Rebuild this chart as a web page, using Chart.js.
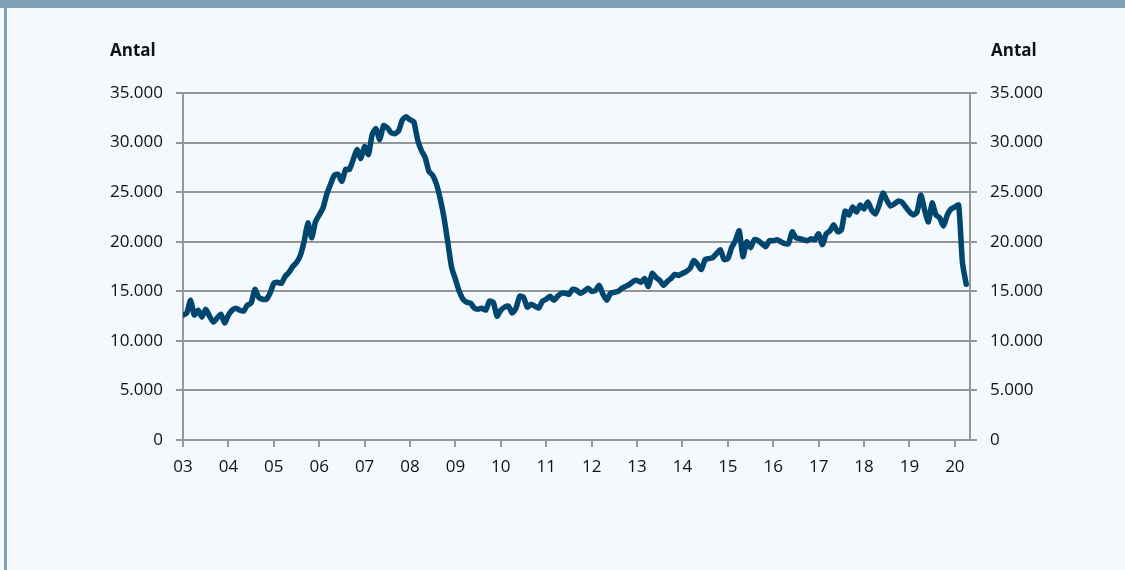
<!DOCTYPE html>
<html>
<head>
<meta charset="utf-8">
<script src="https://cdn.jsdelivr.net/npm/chart.js@4"></script>
<style>
  html, body { margin: 0; padding: 0; }
  body { width: 1125px; height: 570px; background: #f4f9fd; position: relative; overflow: hidden; font-family: "Open Sans", sans-serif; }
  #band { position: absolute; left: 0; top: 0; width: 1125px; height: 8px; background: #7fa0b6; }
  #edge { position: absolute; left: 4px; top: 0; width: 3px; height: 570px; background: #7fa0b6; }
  #chart { position: absolute; left: 0; top: 0; }
  .unit { position: absolute; top: 38px; font-weight: bold; font-size: 17px; color: #111; }
</style>
</head>
<body>
<div id="band"></div>
<div id="edge"></div>
<canvas id="chart" width="1125" height="570"></canvas>
<div class="unit" style="left:110px">Antal</div>
<div class="unit" style="left:991px">Antal</div>
<script>
// monthly values, Jan 2003 - Apr 2020
const y2003 = [12600, 12800, 14100, 12600, 13100, 12400, 13200, 12500, 11900, 12300, 12700, 11800];
const y2004 = [12600, 13100, 13300, 13100, 13000, 13600, 13800, 15200, 14400, 14200, 14200, 14800];
const y2005 = [15800, 15900, 15800, 16500, 16900, 17500, 17900, 18600, 20000, 21900, 20400, 22000];
const y2006 = [22700, 23400, 24800, 25800, 26700, 26800, 26100, 27300, 27300, 28300, 29300, 28400];
const y2007 = [29600, 28800, 30800, 31400, 30300, 31700, 31500, 31000, 30900, 31200, 32300, 32600];
const y2008 = [32300, 32100, 30300, 29200, 28500, 27100, 26700, 25800, 24300, 22400, 19900, 17400];
const y2009 = [16200, 15000, 14200, 13900, 13800, 13300, 13200, 13300, 13100, 14000, 13900, 12500];
const y2010 = [13100, 13400, 13500, 12800, 13300, 14500, 14400, 13400, 13700, 13500, 13300, 14000];
const y2011 = [14200, 14500, 14100, 14500, 14800, 14800, 14700, 15200, 15100, 14800, 15000, 15300];
const y2012 = [15000, 15100, 15600, 14700, 14100, 14800, 14900, 15000, 15300, 15500, 15700, 16000];
const y2013 = [16100, 15900, 16300, 15500, 16800, 16400, 16100, 15600, 16000, 16300, 16700, 16600];
const y2014 = [16800, 17000, 17300, 18100, 17700, 17200, 18200, 18300, 18400, 18800, 19200, 18200];
const y2015 = [18300, 19400, 20100, 21100, 18500, 20000, 19400, 20200, 20100, 19800, 19500, 20100];
const y2016 = [20100, 20200, 20000, 19800, 19800, 21000, 20400, 20300, 20200, 20100, 20300, 20200];
const y2017 = [20800, 19700, 20800, 21100, 21700, 21000, 21200, 23100, 22700, 23500, 23000, 23700];
const y2018 = [23300, 24000, 23200, 22800, 23700, 24900, 24200, 23600, 23800, 24100, 24000, 23500];
const y2019 = [23000, 22700, 23000, 24700, 23200, 22000, 23900, 22700, 22400, 21600, 22700, 23300];
const y2020 = [23500, 23700, 17900, 15700];

const yearLabels = ['03', '04', '05', '06', '07', '08', '09', '10', '11', '12', '13', '14', '15', '16', '17', '18', '19', '20'];
const yTicks = [0, 5000, 10000, 15000, 20000, 25000, 30000, 35000];

const values = [].concat(y2003, y2004, y2005, y2006, y2007, y2008, y2009, y2010, y2011,
  y2012, y2013, y2014, y2015, y2016, y2017, y2018, y2019, y2020);
const points = values.map((v, i) => ({ x: i, y: v }));

const gridColor = '#969696';
const tickFont = { family: 'Open Sans', size: 17 };

function fmt(v) {
  return String(v).replace(/\B(?=(\d{3})+(?!\d))/g, '.');
}

function yTickList(scale) {
  scale.ticks = yTicks.map(v => ({ value: v }));
}

const ctx = document.getElementById('chart').getContext('2d');
new Chart(ctx, {
  type: 'line',
  data: {
    datasets: [{
      data: points,
      borderColor: '#00466e',
      borderWidth: 5.5,
      pointRadius: 0,
      tension: 0.2,
      borderJoinStyle: 'round',
      borderCapStyle: 'round',
      fill: false
    }]
  },
  options: {
    responsive: false,
    animation: false,
    layout: { padding: { top: 93, left: 0, right: 0, bottom: 0 } },
    plugins: { legend: { display: false }, tooltip: { enabled: false } },
    scales: {
      x: {
        type: 'linear',
        min: 0,
        max: 208,
        afterBuildTicks: scale => {
          scale.ticks = yearLabels.map((l, i) => ({ value: i * 12 }));
        },
        ticks: {
          callback: v => yearLabels[v / 12],
          color: '#111',
          font: tickFont,
          padding: 10,
          maxRotation: 0,
          autoSkip: false
        },
        grid: { drawOnChartArea: false, color: gridColor, lineWidth: 2, tickLength: 7 },
        border: { color: gridColor, width: 2 },
        afterFit: scale => { scale.height = 130; }
      },
      y: {
        position: 'left',
        min: 0,
        max: 35000,
        afterBuildTicks: yTickList,
        ticks: { callback: v => fmt(v), color: '#111', font: tickFont, padding: 13 },
        grid: { color: gridColor, lineWidth: 2, tickLength: 7 },
        border: { color: gridColor, width: 2 },
        afterFit: scale => { scale.width = 183; }
      },
      y2: {
        position: 'right',
        min: 0,
        max: 35000,
        afterBuildTicks: yTickList,
        ticks: { callback: v => fmt(v), color: '#111', font: tickFont, padding: 13 },
        grid: { drawOnChartArea: false, color: gridColor, lineWidth: 2, tickLength: 7 },
        border: { color: gridColor, width: 2 },
        afterFit: scale => { scale.width = 155; }
      }
    }
  }
});
</script>
</body>
</html>
